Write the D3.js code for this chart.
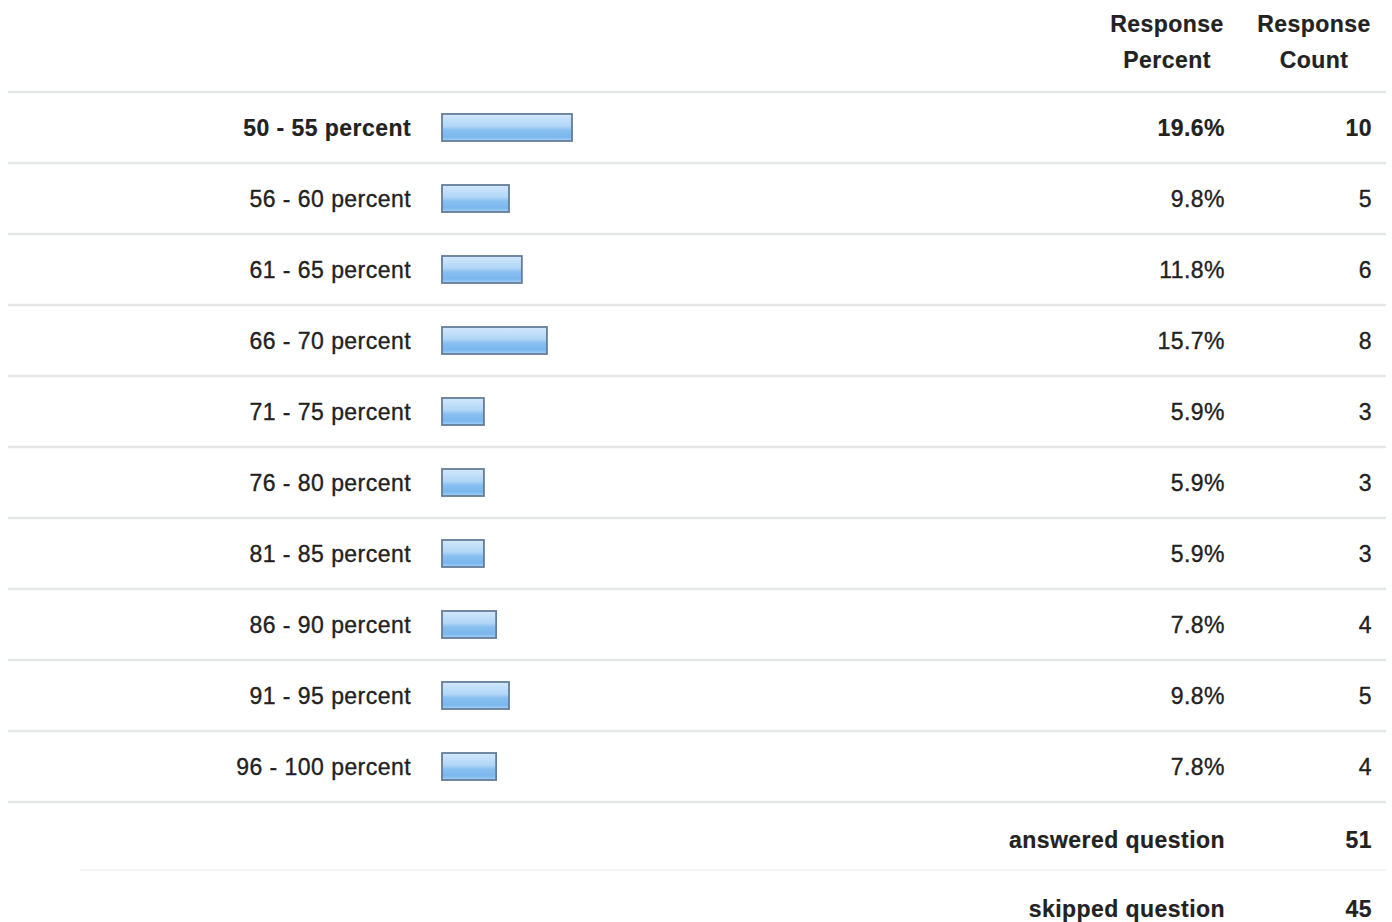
<!DOCTYPE html>
<html><head><meta charset="utf-8">
<script src="https://cdn.jsdelivr.net/npm/d3@7"></script>
<style>
html,body{margin:0;padding:0;background:#fff;}
svg{display:block;font-family:"Liberation Sans",Arial,sans-serif;}
</style></head>
<body>
<svg id="chart" width="1392" height="922"></svg>
<script>
const categories = ["50 - 55 percent","56 - 60 percent","61 - 65 percent","66 - 70 percent","71 - 75 percent","76 - 80 percent","81 - 85 percent","86 - 90 percent","91 - 95 percent","96 - 100 percent"];
const percents = [19.6, 9.8, 11.8, 15.7, 5.9, 5.9, 5.9, 7.8, 9.8, 7.8];
const counts = [10, 5, 6, 8, 3, 3, 3, 4, 5, 4];
const headers = [["Response","Percent"],["Response","Count"]];
const summaryLabels = ["answered question","skipped question"];
const summaryValues = [51, 45];

const svg = d3.select("#chart");
const textColor = "#222222";
const fontSize = 23;
const ls = 0.45;

const defs = svg.append("defs");
const grad = defs.append("linearGradient").attr("id","barGrad").attr("x1",0).attr("y1",0).attr("x2",0).attr("y2",1);
grad.append("stop").attr("offset","0%").attr("stop-color","#d3e8fb");
grad.append("stop").attr("offset","45%").attr("stop-color","#b0d6f7");
grad.append("stop").attr("offset","60%").attr("stop-color","#88bff0");
grad.append("stop").attr("offset","85%").attr("stop-color","#7ab7ee");
grad.append("stop").attr("offset","100%").attr("stop-color","#a8d1f5");

const y = d3.scaleBand().domain(categories).range([92, 802]).paddingInner(0).paddingOuter(0);
const x = d3.scaleLinear().domain([0, 19.6]).range([4, 130]);
const barX = 442;
const labelX = 411, pctX = 1225, cntX = 1372;

function styleText(sel, bold) {
  sel.attr("font-size", fontSize).attr("letter-spacing", ls).attr("fill", textColor)
    .attr("stroke", textColor).attr("stroke-width", bold ? 0.2 : 0.35)
    .attr("font-weight", bold ? "bold" : "normal");
  return sel;
}

// separators
const sepYs = categories.map(c => y(c)).concat([y.range()[1]]);
svg.append("g").selectAll("line").data(sepYs).join("line")
  .attr("x1", 8).attr("x2", 1386).attr("y1", d => d).attr("y2", d => d)
  .attr("stroke", "#e4e6e8").attr("stroke-width", 2.5);
svg.append("line").attr("x1", 80).attr("x2", 1386).attr("y1", 870).attr("y2", 870)
  .attr("stroke", "#f3f4f5").attr("stroke-width", 2);

// headers
const hx = [1167, 1314];
headers.forEach((h, i) => {
  styleText(svg.append("g").selectAll("text").data(h).join("text")
    .attr("x", hx[i]).attr("y", (d, j) => 32 + j * 36)
    .attr("text-anchor", "middle"), true)
    .text(d => d);
});

const rows = svg.append("g").selectAll("g").data(categories).join("g")
  .attr("transform", d => `translate(0,${y(d) + y.bandwidth() / 2})`);

rows.each(function(d, i) {
  const g = d3.select(this);
  styleText(g.append("text").attr("x", labelX).attr("dy", "0.36em").attr("text-anchor", "end"), i === 0)
    .text(d);
  g.append("rect").attr("x", barX).attr("y", -13.5).attr("height", 27)
    .attr("width", x(percents[i]))
    .attr("fill", "url(#barGrad)").attr("stroke", "#647d98").attr("stroke-width", 1.8);
  styleText(g.append("text").attr("x", pctX).attr("dy", "0.36em").attr("text-anchor", "end"), i === 0)
    .text(percents[i].toFixed(1) + "%");
  styleText(g.append("text").attr("x", cntX).attr("dy", "0.36em").attr("text-anchor", "end"), i === 0)
    .text(counts[i]);
});

// summary
const sy = d3.scalePoint().domain(summaryLabels).range([840, 909]);
const srows = svg.append("g").selectAll("g").data(summaryLabels).join("g")
  .attr("transform", d => `translate(0,${sy(d)})`);
styleText(srows.append("text").attr("x", pctX).attr("dy", "0.36em").attr("text-anchor", "end"), true)
  .text(d => d);
styleText(srows.append("text").attr("x", cntX).attr("dy", "0.36em").attr("text-anchor", "end"), true)
  .text((d, i) => summaryValues[i]);
</script>
</body></html>
